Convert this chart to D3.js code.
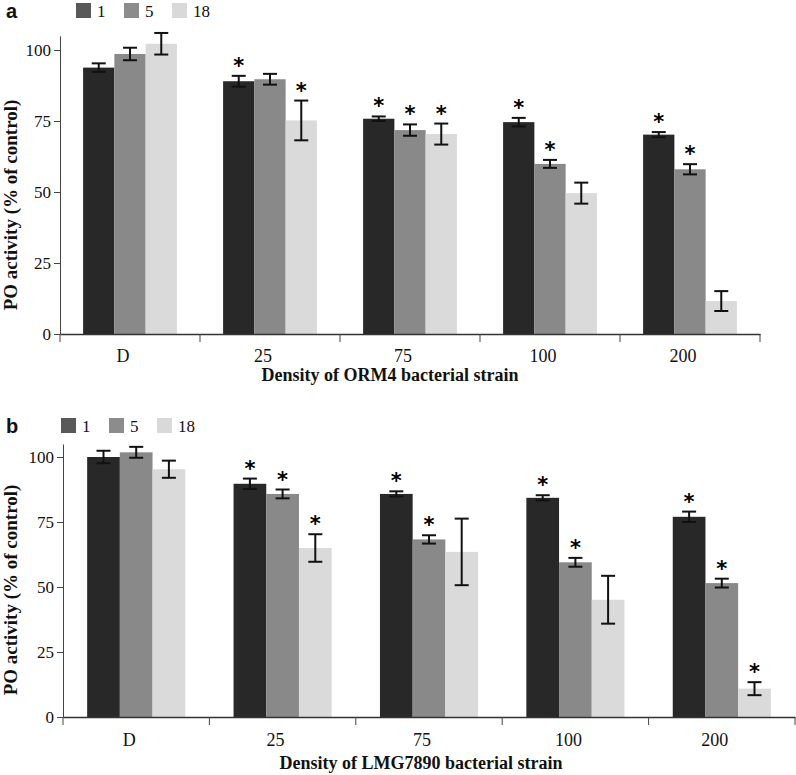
<!DOCTYPE html>
<html>
<head>
<meta charset="utf-8">
<script src="https://cdn.jsdelivr.net/npm/d3@7"></script>
<style>
  body { margin: 0; background: #fff; }
  svg text { font-family: "Liberation Serif", "Times New Roman", serif; }
</style>
</head>
<body>
<div id="chart"></div>
<script>
var categories = ["D", "25", "75", "100", "200"];
var series = ["1", "5", "18"];
var barColors = ["#282828", "#898989", "#dadada"];
var legendColors = ["#595959", "#8c8c8c", "#d9d9d9"];
var yTicks = [0, 25, 50, 75, 100];

// panel a - ORM4
var orm4Mean1 = [93.8, 89.0, 75.8, 74.6, 70.2];
var orm4Mean5 = [98.6, 89.7, 71.8, 59.9, 58.0];
var orm4Mean18 = [102.2, 75.2, 70.4, 49.6, 11.6];
var orm4Err1 = [1.5, 1.9, 0.8, 1.5, 0.9];
var orm4Err5 = [2.2, 1.9, 2.0, 1.4, 1.8];
var orm4Err18 = [3.8, 7.0, 3.7, 3.7, 3.5];
var orm4Sig1 = [0, 1, 1, 1, 1];
var orm4Sig5 = [0, 0, 1, 1, 1];
var orm4Sig18 = [0, 1, 1, 0, 0];

// panel b - LMG7890
var lmgMean1 = [100.0, 89.7, 85.8, 84.3, 77.0];
var lmgMean5 = [101.8, 85.8, 68.3, 59.5, 51.5];
var lmgMean18 = [95.3, 65.0, 63.5, 45.1, 10.9];
var lmgErr1 = [2.4, 2.0, 1.0, 1.0, 2.0];
var lmgErr5 = [2.1, 1.7, 1.6, 1.7, 1.7];
var lmgErr18 = [3.3, 5.3, 12.8, 9.2, 2.5];
var lmgSig1 = [0, 1, 1, 1, 1];
var lmgSig5 = [0, 1, 1, 1, 1];
var lmgSig18 = [0, 1, 0, 0, 1];

var svg = d3.select("#chart").append("svg")
    .attr("width", 796)
    .attr("height", 775);

function drawPanel(p) {
    var rows = [];
    categories.forEach(function (c, i) {
        series.forEach(function (s, j) {
            rows.push({ cat: c, ser: s, idx: j, value: p.means[j][i], err: p.errs[j][i], sig: p.sigs[j][i] });
        });
    });

    var x0 = d3.scaleBand().domain(categories).range([p.left, p.right]).padding(0);
    var bw = x0.bandwidth();
    var x1 = d3.scaleBand().domain(series).range([bw * 0.165, bw * 0.835]).padding(0);
    var y = d3.scaleLinear().domain([0, 105]).range([p.zero, p.zero - (p.zero - p.y100) * 1.05]);

    var g = svg.append("g");

    // bars
    g.selectAll(".bar")
        .data(rows)
        .enter().append("rect")
        .attr("class", "bar")
        .attr("x", function (d) { return x0(d.cat) + x1(d.ser); })
        .attr("width", x1.bandwidth())
        .attr("y", function (d) { return y(d.value); })
        .attr("height", function (d) { return y(0) - y(d.value); })
        .attr("fill", function (d) { return barColors[d.idx]; });

    // error bars
    var eb = g.selectAll(".err")
        .data(rows)
        .enter().append("g")
        .attr("class", "err")
        .attr("stroke", "#111")
        .attr("stroke-width", 2);
    function cx(d) { return x0(d.cat) + x1(d.ser) + x1.bandwidth() / 2; }
    eb.append("line")
        .attr("x1", cx).attr("x2", cx)
        .attr("y1", function (d) { return y(d.value + d.err); })
        .attr("y2", function (d) { return y(d.value - d.err); });
    eb.append("line")
        .attr("x1", function (d) { return cx(d) - 7; }).attr("x2", function (d) { return cx(d) + 7; })
        .attr("y1", function (d) { return y(d.value + d.err); })
        .attr("y2", function (d) { return y(d.value + d.err); });
    eb.append("line")
        .attr("x1", function (d) { return cx(d) - 7; }).attr("x2", function (d) { return cx(d) + 7; })
        .attr("y1", function (d) { return y(d.value - d.err); })
        .attr("y2", function (d) { return y(d.value - d.err); });

    // significance stars
    g.selectAll(".star")
        .data(rows.filter(function (d) { return d.sig; }))
        .enter().append("text")
        .attr("class", "star")
        .attr("x", cx)
        .attr("y", function (d) { return y(d.value + d.err) - 3; })
        .attr("text-anchor", "middle")
        .style("font-family", "DejaVu Sans, sans-serif")
        .style("font-weight", "bold")
        .style("font-size", "21px")
        .text("*");

    // y axis
    var yAxis = g.append("g")
        .attr("transform", "translate(" + p.left + ",0)")
        .call(d3.axisLeft(y).tickValues(yTicks).tickSize(6).tickPadding(3).tickSizeOuter(0));
    yAxis.select(".domain").attr("stroke", "#444");
    yAxis.selectAll(".tick line").attr("stroke", "#444");
    yAxis.selectAll("text")
        .style("font-family", "Liberation Serif, serif")
        .style("font-size", "17px")
        .attr("fill", "#111");

    // x axis: labels from band centres, ticks at band edges
    var xAxis = g.append("g")
        .attr("transform", "translate(0," + p.zero + ")")
        .call(d3.axisBottom(x0).tickSize(0).tickPadding(p.labelPad).tickSizeOuter(0));
    xAxis.select(".domain").attr("stroke", "#333").attr("stroke-width", 1.5);
    xAxis.selectAll("text")
        .attr("dx", -7)
        .style("font-family", "Liberation Serif, serif")
        .style("font-size", "18px")
        .attr("fill", "#111");
    var edges = categories.map(function (c) { return x0(c); }).concat([p.right]);
    xAxis.selectAll(".edge")
        .data(edges)
        .enter().append("line")
        .attr("class", "edge")
        .attr("x1", function (d) { return d; }).attr("x2", function (d) { return d; })
        .attr("y1", 0).attr("y2", 8)
        .attr("stroke", "#444");

    // axis titles
    g.append("text")
        .attr("x", p.titleX)
        .attr("y", p.titleY)
        .attr("text-anchor", "middle")
        .style("font-weight", "bold")
        .style("font-size", "18px")
        .attr("fill", "#111")
        .text(p.xTitle);
    g.append("text")
        .attr("transform", "translate(" + 17 + "," + p.yTitleMid + ") rotate(-90)")
        .attr("text-anchor", "middle")
        .style("font-weight", "bold")
        .style("font-size", "19px")
        .attr("fill", "#111")
        .text("PO activity (% of control)");

    // panel letter and legend
    g.append("text")
        .attr("x", p.letterX)
        .attr("y", p.legendY + 15)
        .style("font-family", "Liberation Sans, Arial, sans-serif")
        .style("font-weight", "bold")
        .style("font-size", "20px")
        .attr("fill", "#111")
        .text(p.letter);
    var leg = g.selectAll(".leg")
        .data(series)
        .enter().append("g")
        .attr("class", "leg")
        .attr("transform", function (d, i) { return "translate(" + (p.legendX + i * 48) + "," + p.legendY + ")"; });
    leg.append("rect")
        .attr("width", 15).attr("height", 15)
        .attr("fill", function (d, i) { return legendColors[i]; });
    leg.append("text")
        .attr("x", 21).attr("y", 14)
        .style("font-size", "17px")
        .attr("fill", "#111")
        .text(function (d) { return d; });
}

drawPanel({
    letter: "a", letterX: 6, legendX: 76, legendY: 3,
    left: 60, right: 760, zero: 334, y100: 50, labelPad: 15,
    means: [orm4Mean1, orm4Mean5, orm4Mean18],
    errs: [orm4Err1, orm4Err5, orm4Err18],
    sigs: [orm4Sig1, orm4Sig5, orm4Sig18],
    xTitle: "Density of ORM4 bacterial strain", titleX: 390, titleY: 381, yTitleMid: 205
});

drawPanel({
    letter: "b", letterX: 6, legendX: 61, legendY: 418,
    left: 63, right: 795, zero: 717, y100: 457, labelPad: 16,
    means: [lmgMean1, lmgMean5, lmgMean18],
    errs: [lmgErr1, lmgErr5, lmgErr18],
    sigs: [lmgSig1, lmgSig5, lmgSig18],
    xTitle: "Density of LMG7890 bacterial strain", titleX: 421, titleY: 769, yTitleMid: 590
});
</script>
</body>
</html>
